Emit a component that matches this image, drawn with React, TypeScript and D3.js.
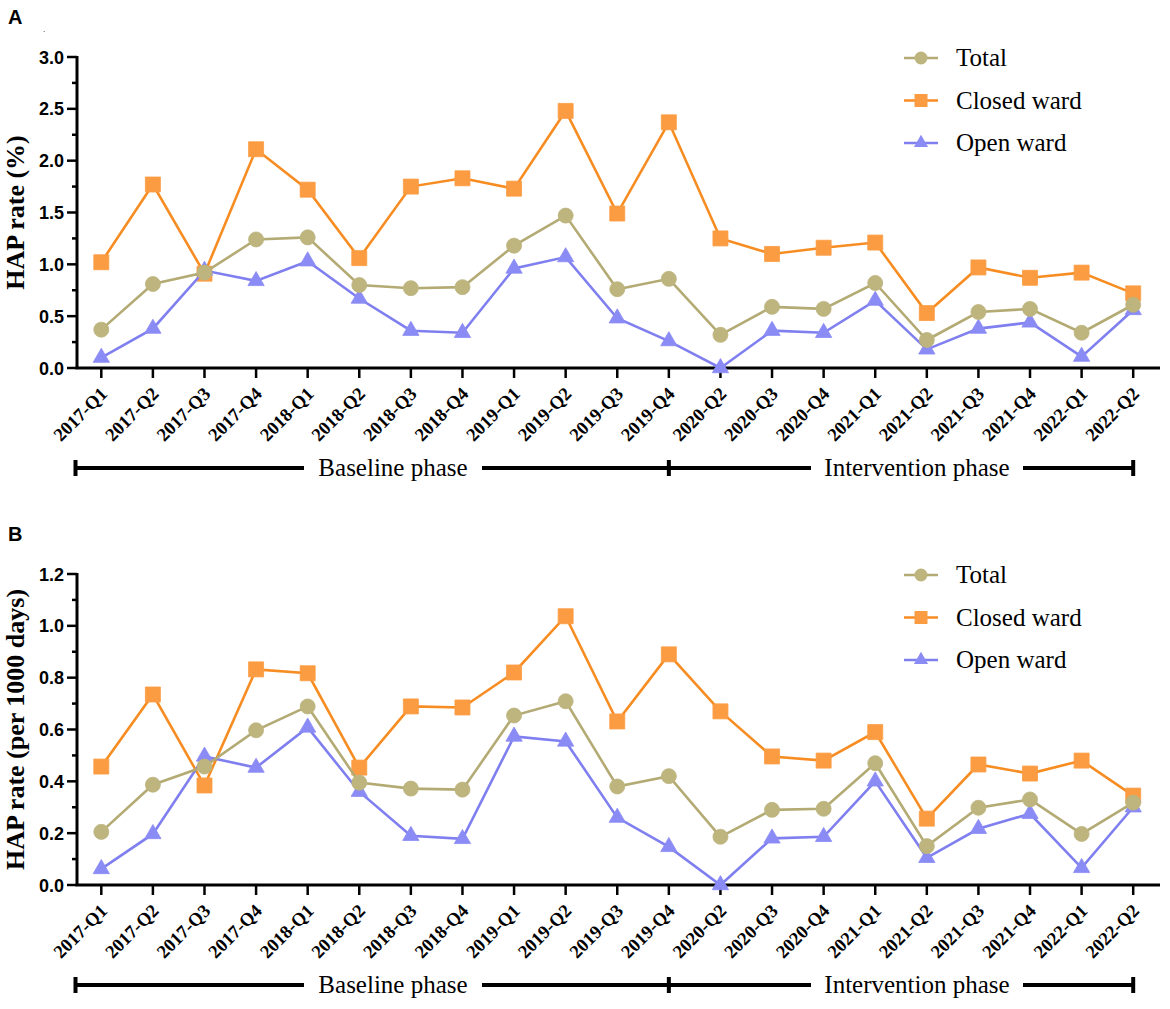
import * as d3 from "d3";

// quarters on the x axis (2020-Q1 is missing in the source)
const QUARTERS = [
  "2017-Q1", "2017-Q2", "2017-Q3", "2017-Q4",
  "2018-Q1", "2018-Q2", "2018-Q3", "2018-Q4",
  "2019-Q1", "2019-Q2", "2019-Q3", "2019-Q4",
  "2020-Q2", "2020-Q3", "2020-Q4",
  "2021-Q1", "2021-Q2", "2021-Q3", "2021-Q4",
  "2022-Q1", "2022-Q2",
];

// panel A: HAP rate (%)
const PCT_TOTAL = [0.37, 0.81, 0.92, 1.24, 1.26, 0.8, 0.77, 0.78, 1.18, 1.47, 0.76, 0.86, 0.32, 0.59, 0.57, 0.82, 0.27, 0.54, 0.57, 0.34, 0.61];
const PCT_CLOSED = [1.02, 1.77, 0.91, 2.11, 1.72, 1.06, 1.75, 1.83, 1.73, 2.48, 1.49, 2.37, 1.25, 1.1, 1.16, 1.21, 0.53, 0.97, 0.87, 0.92, 0.72];
const PCT_OPEN = [0.1, 0.38, 0.94, 0.84, 1.03, 0.67, 0.36, 0.34, 0.96, 1.07, 0.48, 0.26, 0.0, 0.36, 0.34, 0.65, 0.18, 0.38, 0.44, 0.11, 0.56];

// panel B: HAP rate (per 1000 days)
const DAYS_TOTAL = [0.205, 0.387, 0.457, 0.597, 0.689, 0.395, 0.372, 0.368, 0.654, 0.709, 0.38, 0.42, 0.186, 0.29, 0.294, 0.47, 0.15, 0.298, 0.33, 0.197, 0.318];
const DAYS_CLOSED = [0.457, 0.735, 0.384, 0.832, 0.817, 0.453, 0.689, 0.685, 0.82, 1.037, 0.631, 0.89, 0.67, 0.496, 0.48, 0.59, 0.256, 0.465, 0.43, 0.48, 0.345];
const DAYS_OPEN = [0.062, 0.197, 0.496, 0.453, 0.608, 0.36, 0.19, 0.178, 0.573, 0.554, 0.26, 0.147, 0.0, 0.18, 0.186, 0.4, 0.105, 0.217, 0.275, 0.066, 0.3];

const SERIES_NAMES = ["Total", "Closed ward", "Open ward"];
const PHASES = ["Baseline phase", "Intervention phase"];
const PHASE_SPLIT = "2019-Q4";

const SERIF = "'Times New Roman', 'Liberation Serif', serif";
const SANS = "Arial, 'Liberation Sans', sans-serif";

const STYLES = {
  Total: { line: "#b3aa74", fill: "#bdb47e", shape: d3.symbolCircle, size: 177 },
  "Closed ward": { line: "#f78d22", fill: "#fb9c43", shape: d3.symbolSquare, size: 225 },
  "Open ward": { line: "#7f7ff0", fill: "#8b8bf5", shape: d3.symbolTriangle, size: 115 },
} as const;

const X0 = 77;
const X_END = 1160;
const PLOT_H = 311;

type PanelProps = {
  top: number;
  letter: string;
  title: string;
  yMax: number;
  major: number;
  total: number[];
  closed: number[];
  open: number[];
};

const Panel = ({ top, letter, title, yMax, major, total, closed, open }: PanelProps) => {
  const bottom = top + PLOT_H;
  const xScale = d3.scalePoint<string>().domain(QUARTERS).range([75.5, 1159]).padding(0.5);
  const yScale = d3.scaleLinear().domain([0, yMax]).range([bottom, top]);

  const majors = d3.range(0, yMax + major / 2, major);
  const minors = d3.range(major / 2, yMax, major);

  const seriesData: Record<string, number[]> = {
    Total: total,
    "Closed ward": closed,
    "Open ward": open,
  };
  // draw order: closed, open, total on top
  const drawOrder = ["Closed ward", "Open ward", "Total"];

  const line = d3
    .line<number>()
    .x((_, i) => xScale(QUARTERS[i]) as number)
    .y((d) => yScale(d));

  const phaseY = bottom + 100;
  const xFirst = xScale(QUARTERS[0]) as number;
  const xStart = xFirst - xScale.step() / 2;
  const xSplit = xScale(PHASE_SPLIT) as number;
  const xLast = xScale(QUARTERS[QUARTERS.length - 1]) as number;
  const phaseLabels = [
    { text: PHASES[0], cx: 393, w: 178 },
    { text: PHASES[1], cx: 917, w: 212 },
  ];

  return (
    <g>
      <text x={8} y={top - 33} fontFamily={SANS} fontWeight="bold" fontSize={20}>
        {letter}
      </text>

      {/* y axis */}
      <line x1={X0} x2={X0} y1={top - 1} y2={bottom} stroke="#000" strokeWidth={3} />
      {majors.map((v) => (
        <g key={"ma" + v}>
          <line x1={X0 - 10} x2={X0} y1={yScale(v)} y2={yScale(v)} stroke="#000" strokeWidth={2.5} />
          <text
            x={64}
            y={yScale(v) + 6.5}
            textAnchor="end"
            fontFamily={SANS}
            fontWeight="bold"
            fontSize={18}
          >
            {v.toFixed(1)}
          </text>
        </g>
      ))}
      {minors.map((v) => (
        <line key={"mi" + v} x1={X0 - 5} x2={X0} y1={yScale(v)} y2={yScale(v)} stroke="#000" strokeWidth={2.5} />
      ))}
      <text
        transform={`translate(24,${(top + bottom) / 2}) rotate(-90)`}
        textAnchor="middle"
        fontFamily={SERIF}
        fontWeight="bold"
        fontSize={26}
      >
        {title}
      </text>

      {/* x axis */}
      <line x1={X0 - 1.5} x2={X_END} y1={bottom} y2={bottom} stroke="#000" strokeWidth={3} />
      {QUARTERS.map((q) => {
        const x = xScale(q) as number;
        return (
          <g key={q}>
            <line x1={x} x2={x} y1={bottom} y2={bottom + 10} stroke="#000" strokeWidth={2.5} />
            <text
              transform={`translate(${x + 7},${bottom + 27}) rotate(-45)`}
              textAnchor="end"
              fontFamily={SERIF}
              fontWeight="bold"
              fontSize={18.5}
            >
              {q}
            </text>
          </g>
        );
      })}

      {/* series */}
      {drawOrder.map((name) => {
        const st = STYLES[name as keyof typeof STYLES];
        const vals = seriesData[name];
        const sym = d3.symbol(st.shape, st.size)();
        return (
          <g key={name}>
            <path d={line(vals) ?? ""} fill="none" stroke={st.line} strokeWidth={2.6} />
            {vals.map((v, i) => (
              <path
                key={i}
                d={sym ?? ""}
                transform={`translate(${xScale(QUARTERS[i])},${yScale(v)})`}
                fill={st.fill}
                stroke={st.fill}
                strokeWidth={0.8}
              />
            ))}
          </g>
        );
      })}

      {/* legend */}
      {SERIES_NAMES.map((name, i) => {
        const st = STYLES[name as keyof typeof STYLES];
        const cy = top + 1 + i * 42.5;
        const sym = d3.symbol(st.shape, st.size * 0.75)();
        return (
          <g key={name}>
            <line x1={904} x2={938} y1={cy} y2={cy} stroke={st.line} strokeWidth={2.6} />
            <path d={sym ?? ""} transform={`translate(921,${cy})`} fill={st.fill} />
            <text x={956} y={cy + 8} fontFamily={SERIF} fontSize={25}>
              {name}
            </text>
          </g>
        );
      })}

      {/* phase bar */}
      <line x1={xStart} x2={xLast} y1={phaseY} y2={phaseY} stroke="#000" strokeWidth={4} />
      {[xStart, xSplit, xLast].map((x, i) => (
        <line key={i} x1={x} x2={x} y1={phaseY - 8} y2={phaseY + 8} stroke="#000" strokeWidth={4} />
      ))}
      {phaseLabels.map((p) => (
        <g key={p.text}>
          <rect x={p.cx - p.w / 2} y={phaseY - 6} width={p.w} height={12} fill="#fff" />
          <text x={p.cx} y={phaseY + 8} textAnchor="middle" fontFamily={SERIF} fontSize={25}>
            {p.text}
          </text>
        </g>
      ))}
    </g>
  );
};

export default function App() {
  return (
    <svg
      width={1170}
      height={1009}
      style={{ position: "absolute", left: 0, top: 0, background: "#fff" }}
    >
      <text x={43} y={32} fontSize={8} fontFamily={SANS}>
        .
      </text>
      <Panel
        top={57}
        letter="A"
        title="HAP rate (%)"
        yMax={3}
        major={0.5}
        total={PCT_TOTAL}
        closed={PCT_CLOSED}
        open={PCT_OPEN}
      />
      <Panel
        top={574}
        letter="B"
        title="HAP rate (per 1000 days)"
        yMax={1.2}
        major={0.2}
        total={DAYS_TOTAL}
        closed={DAYS_CLOSED}
        open={DAYS_OPEN}
      />
    </svg>
  );
}
